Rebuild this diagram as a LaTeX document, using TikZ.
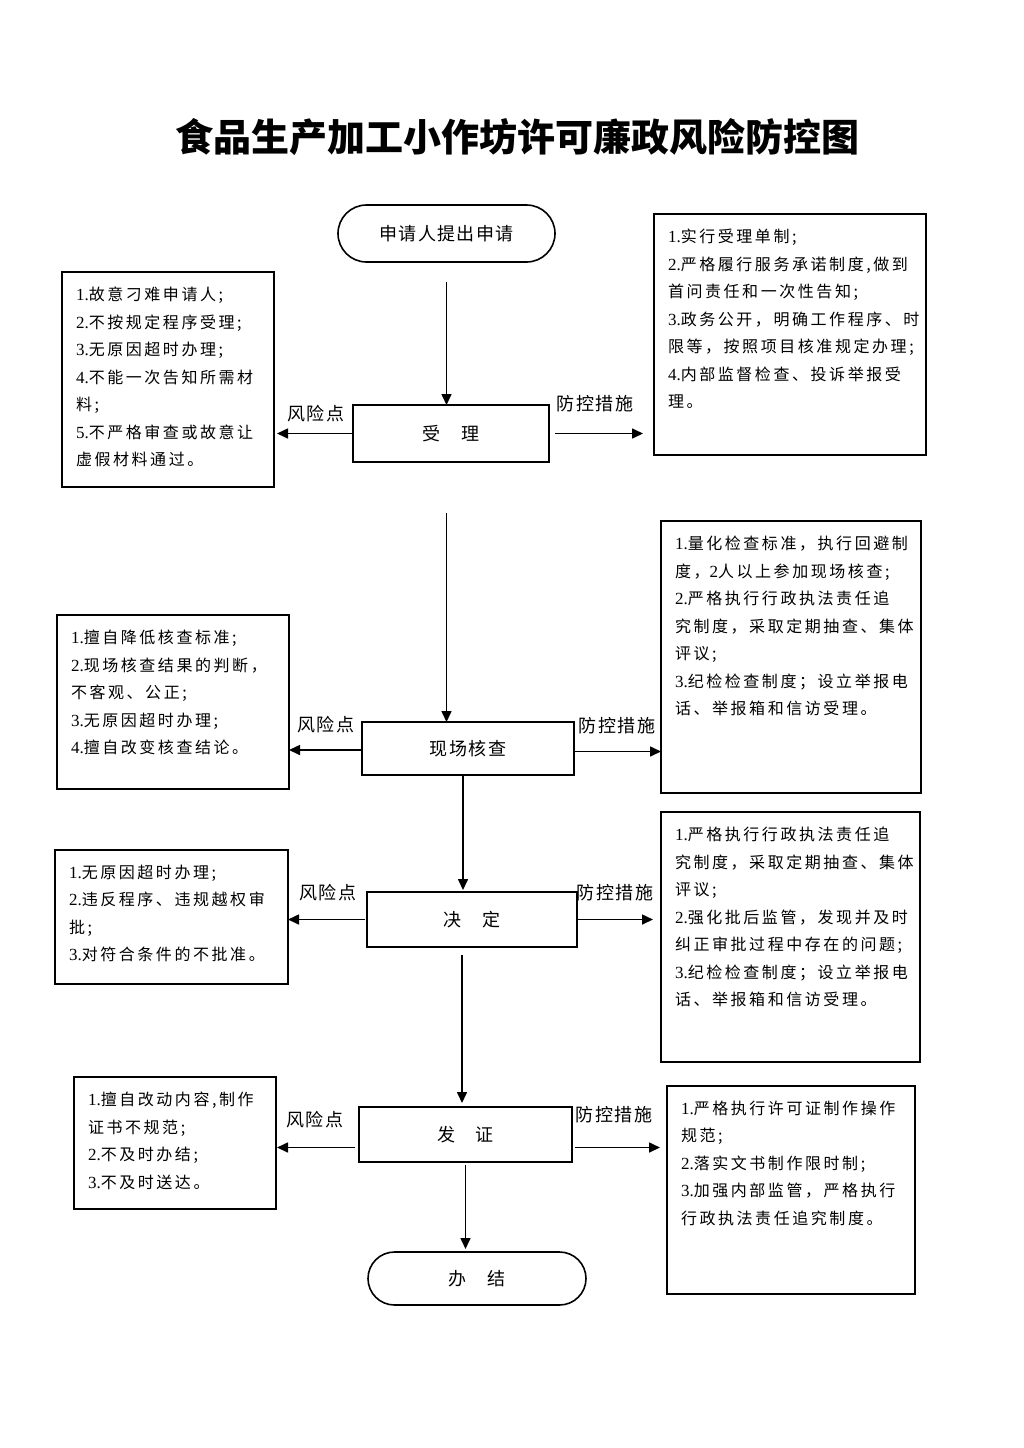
\documentclass[tikz,border=0pt]{standalone}
\usepackage{fontspec}
\setmainfont{Noto Sans CJK SC}
\newfontfamily\boxfont[LetterSpace=16]{Noto Sans CJK SC}
\newfontfamily\lblfont[LetterSpace=8]{Noto Sans CJK SC}
\newfontfamily\serifnum{Liberation Serif}
\newcommand{\ls}[1]{{\serifnum\fontsize{17}{27.5}\selectfont #1}}
\usetikzlibrary{arrows.meta,shapes.misc,calc}
\begin{document}
\begin{tikzpicture}[x=1pt,y=-1pt,
  every node/.style={inner sep=0pt, outer sep=0pt},
  proc/.style={draw, line width=1.8pt, rectangle, font={\lblfont\fontsize{18}{20}\selectfont}},
  term/.style={draw, line width=1.6pt, rounded rectangle, font={\lblfont\fontsize{18}{20}\selectfont}},
  infobox/.style={draw, line width=1.8pt, rectangle},
  boxtext/.style={anchor=north west, align=left, font={\boxfont\fontsize{16}{27.5}\selectfont}},
  lbl/.style={font={\lblfont\fontsize{18}{20}\selectfont}},
  arr/.style={line width=1.6pt, -{Triangle[length=11pt,width=10pt]}},
]
\useasboundingbox (0,0) rectangle (1024,1448);
\fill[white] (0,0) rectangle (1024,1448);

\node[font={\bfseries\fontsize{38}{40}\selectfont}] (title) at (517,137) {食品生产加工小作坊许可廉政风险防控图};

% main flow
\node[term, minimum width=217pt, minimum height=57pt] (start) at (446.5,233.5) {申请人提出申请};
\node[proc, minimum width=196pt, minimum height=57pt] (sl) at (451,433.5) {受　理};
\node[proc, minimum width=212pt, minimum height=53pt] (xc) at (468,748.5) {现场核查};
\node[proc, minimum width=210pt, minimum height=55pt] (jd) at (472,919.5) {决　定};
\node[proc, minimum width=213pt, minimum height=55pt] (fz) at (465.5,1134.5) {发　证};
\node[term, minimum width=218pt, minimum height=53pt] (bj) at (477,1278.5) {办　结};

% boxes
\node[infobox, minimum width=212pt, minimum height=215pt] (r1) at (168,379.5) {};
\node[infobox, minimum width=272pt, minimum height=241pt] (m1) at (790,334.5) {};
\node[infobox, minimum width=232pt, minimum height=174pt] (r2) at (173,702) {};
\node[infobox, minimum width=260pt, minimum height=272pt] (m2) at (791,657) {};
\node[infobox, minimum width=233pt, minimum height=134pt] (r3) at (171.5,917) {};
\node[infobox, minimum width=259pt, minimum height=250pt] (m3) at (790.5,937) {};
\node[infobox, minimum width=202pt, minimum height=132pt] (r4) at (175,1143) {};
\node[infobox, minimum width=248pt, minimum height=208pt] (m4) at (791,1190) {};

% box texts
\node[boxtext] (t1) at ($(r1.north west)+(14,15)$) {\ls{1.}故意刁难申请人;\\\ls{2.}不按规定程序受理;\\\ls{3.}无原因超时办理;\\\ls{4.}不能一次告知所需材\\料;\\\ls{5.}不严格审查或故意让\\虚假材料通过。};
\node[boxtext] (tm1) at ($(m1.north west)+(14,15)$) {\ls{1.}实行受理单制;\\\ls{2.}严格履行服务承诺制度,做到\\首问责任和一次性告知;\\\ls{3.}政务公开，明确工作程序、时\\限等，按照项目核准规定办理;\\\ls{4.}内部监督检查、投诉举报受\\理。};
\node[boxtext] (t2) at ($(r2.north west)+(14,15)$) {\ls{1.}擅自降低核查标准;\\\ls{2.}现场核查结果的判断，\\不客观、公正;\\\ls{3.}无原因超时办理;\\\ls{4.}擅自改变核查结论。};
\node[boxtext] (tm2) at ($(m2.north west)+(14,15)$) {\ls{1.}量化检查标准，执行回避制\\度，\ls{2}人以上参加现场核查;\\\ls{2.}严格执行行政执法责任追\\究制度，采取定期抽查、集体\\评议;\\\ls{3.}纪检检查制度；设立举报电\\话、举报箱和信访受理。};
\node[boxtext] (t3) at ($(r3.north west)+(14,15)$) {\ls{1.}无原因超时办理;\\\ls{2.}违反程序、违规越权审\\批;\\\ls{3.}对符合条件的不批准。};
\node[boxtext] (tm3) at ($(m3.north west)+(14,15)$) {\ls{1.}严格执行行政执法责任追\\究制度，采取定期抽查、集体\\评议;\\\ls{2.}强化批后监管，发现并及时\\纠正审批过程中存在的问题;\\\ls{3.}纪检检查制度；设立举报电\\话、举报箱和信访受理。};
\node[boxtext] (t4) at ($(r4.north west)+(14,15)$) {\ls{1.}擅自改动内容,制作\\证书不规范;\\\ls{2.}不及时办结;\\\ls{3.}不及时送达。};
\node[boxtext] (tm4) at ($(m4.north west)+(14,15)$) {\ls{1.}严格执行许可证制作操作\\规范;\\\ls{2.}落实文书制作限时制;\\\ls{3.}加强内部监管，严格执行\\行政执法责任追究制度。};

% labels
\node[lbl] (f1) at (316,414) {风险点};
\node[lbl] (p1) at (595,404) {防控措施};
\node[lbl] (f2) at (326,725) {风险点};
\node[lbl] (p2) at (617,726) {防控措施};
\node[lbl] (f3) at (328,893) {风险点};
\node[lbl] (p3) at (615,893) {防控措施};
\node[lbl] (f4) at (315,1120) {风险点};
\node[lbl] (p4) at (614,1115) {防控措施};

% vertical connectors
\draw[arr, shorten <=20pt] (start.south) -- (start.south |- sl.north);
\draw[arr] ([yshift=-51pt]sl.south -| start.south) -- (start.south |- xc.north);
\coordinate (c2) at ([xshift=-5pt]xc.south);
\draw[arr, shorten >=2pt] (c2) -- (c2 |- jd.north);
\coordinate (c3) at ([xshift=-10pt, yshift=-8pt]jd.south);
\draw[arr, shorten >=4pt] (c3) -- (c3 |- fz.north);
\coordinate (c4) at ([yshift=-3pt]fz.south);
\draw[arr, shorten >=3pt] (c4) -- (c4 |- bj.north);

% horizontal connectors
\draw[arr, shorten >=3pt] (sl.west) -- (sl.west -| r1.east);
\draw[arr, shorten <=6pt, shorten >=11pt] (sl.east) -- (sl.east -| m1.west);
\draw[arr] ([yshift=-1.5pt]xc.west) -- ([yshift=-1.5pt]xc.west -| r2.east);
\draw[arr] ([yshift=-3pt]xc.east) -- ([yshift=-3pt]xc.east -| m2.west);
\draw[arr, shorten <=2pt] (jd.west) -- (jd.west -| r3.east);
\draw[arr, shorten <=1pt, shorten >=8pt] (jd.east) -- (jd.east -| m3.west);
\draw[arr, shorten <=4pt, shorten >=1pt] ([yshift=-13pt]fz.west) -- ([yshift=-13pt]fz.west -| r4.east);
\draw[arr, shorten <=3pt, shorten >=7pt] ([yshift=-13pt]fz.east) -- ([yshift=-13pt]fz.east -| m4.west);
\end{tikzpicture}
\end{document}
